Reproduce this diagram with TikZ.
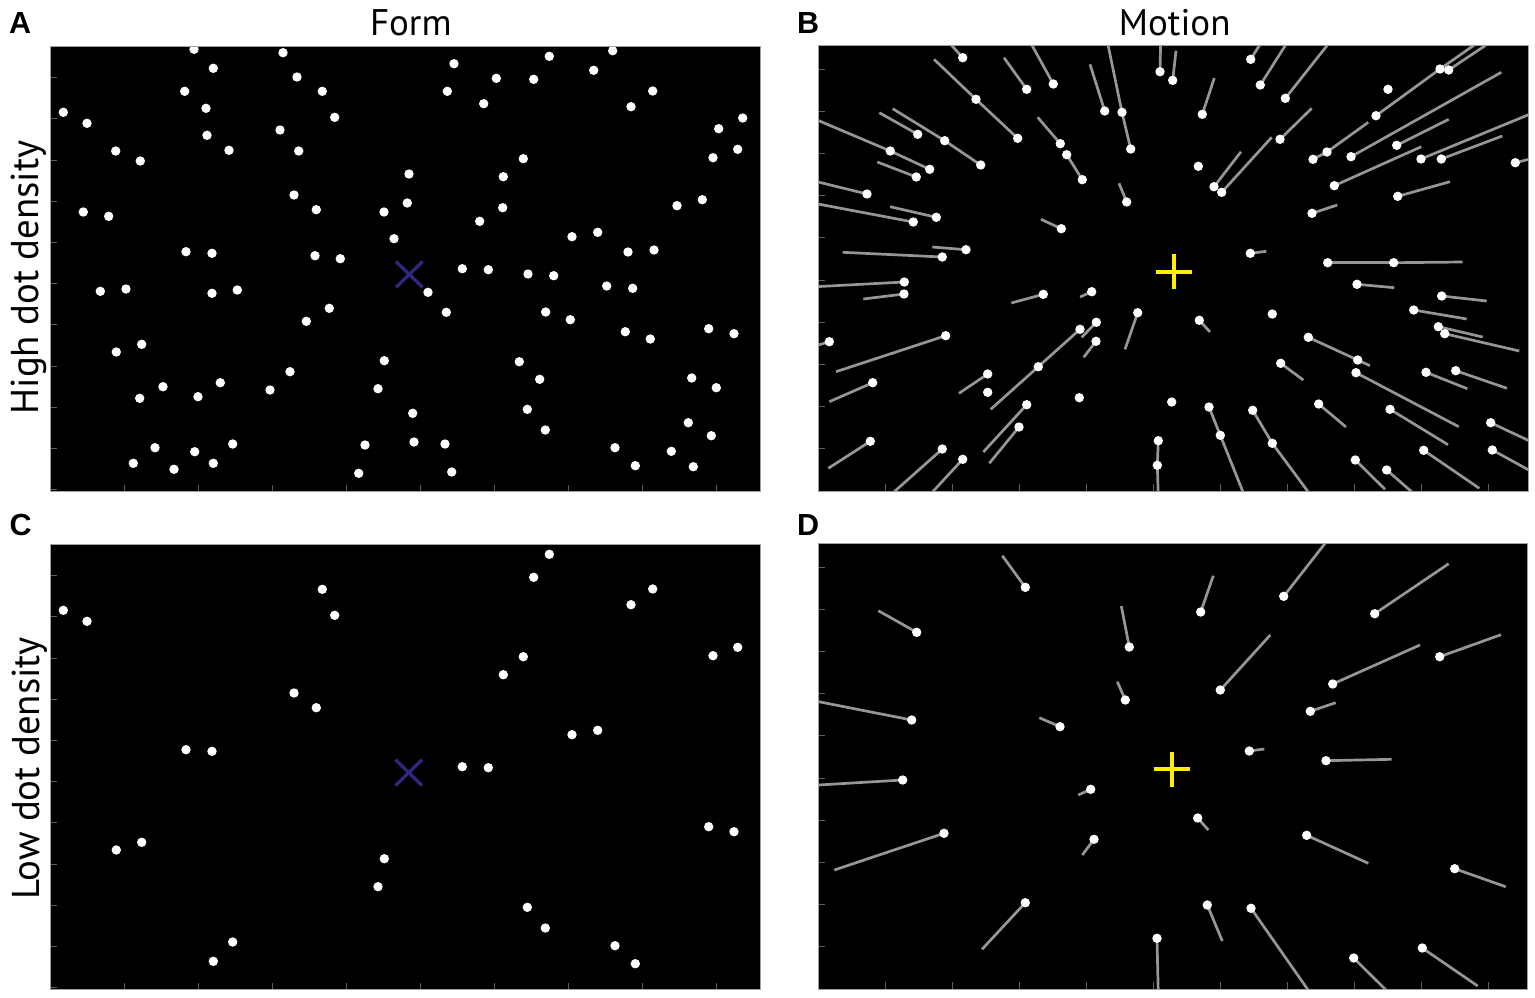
\documentclass[tikz,border=0pt]{standalone}
\usepackage{fontspec}
\setmainfont{PT Sans}
\newfontfamily\letterfont{Liberation Sans}
\definecolor{trailgray}{RGB}{150,150,150}
\definecolor{framegray}{RGB}{160,160,160}
\definecolor{tickgray}{RGB}{95,95,95}
\definecolor{xblue}{RGB}{48,40,128}
\definecolor{fixyellow}{RGB}{255,240,0}
\begin{document}
\begin{tikzpicture}[x=1pt,y=-1pt,
  panelframe/.style={draw=framegray, line width=1pt},
  whitedot/.style={fill=white},
  trail/.style={draw=trailgray, line width=2.7pt},
  tickmark/.style={draw=tickgray, line width=0.8pt},
  formx/.style={draw=xblue, line width=3.3pt},
  motioncross/.style={draw=fixyellow, line width=4pt},
  panelletter/.style={font=\letterfont\fontsize{30.5}{33}\selectfont\bfseries, inner sep=0pt, anchor=base west},
  heading/.style={font=\fontsize{37}{39}\selectfont, inner sep=0pt, anchor=base},
  rowlabel/.style={font=\fontsize{38.8}{40}\selectfont, inner sep=0pt, anchor=base, rotate=90}]
\useasboundingbox (0,0) rectangle (1535,997);
\fill[white] (0,0) rectangle (1535,997);

% ---------------- labels ----------------
\node[panelletter] (la) at (9,33.3) {A};
\node[panelletter] (lb) at (797,33.3) {B};
\node[panelletter] (lc) at (9.5,535.3) {C};
\node[panelletter] (ld) at (797,535.3) {D};
\node[heading] (hform) at (410.8,35) {Form};
\node[heading] (hmotion) at (1174.7,35.5) {Motion};
\node[rowlabel] (rhigh) at (38,277.5) {High dot density};
\node[rowlabel] (rlow) at (39,768) {Low dot density};

% ---------------- panel A ----------------
\fill[black] (50,46.5) rectangle (760,491.5);
\begin{scope}
\clip (50,46.5) rectangle (760,491.5);
\foreach \x/\y in {194/49.3,283/52.7,213.3/68.3,184.7/91.3,63.3/112.3,206/108.3,87/123.3,207/135.3,280/130,115.7/151,229/150.3,140.3/161,83.3/212,108.7/216.3,186/251.7,212/253.3,100.3/291.3,126/289,212/293.3,237.3/290,116.3/352,141.7/344.3,290/371.7,163/386.7,220.3/382.7,139.7/398.3,198/396.7,270/390,155/447.7,232.7/444,194.7/451.7,133.3/463.3,213.3/463.3,174/469.3,
297/77,322.3/91.3,454/63.7,496.3/78.3,447.3/91.3,483.7/103.7,334.7/117.3,298.7/151,523.3/158.7,409/174,503.3/176.7,294/195,316.3/209.7,407.3/203,384/212,502.7/207.7,479.7/221.3,394/238.7,315/255.7,340.3/258.7,462.3/268.7,488.3/269.7,528/274,428/292.3,446.3/312.3,329.3/308.3,306.3/321.3,384.3/360.7,519.3/361.7,378/388.7,527.3/409.3,412.7/413.3,365/445,414/442,445/444,358.7/473.3,451.7/472,
549.3/56.3,612.7/50.7,533.7/79.3,593.7/70.3,652.7/91,631/106.7,742.7/118,718.7/128.7,737.7/149.3,713/157.7,677/205.7,702.3/199.7,572/236.7,597.7/232.3,628/252,654/250,553.7/275.7,606.7/286,632.7/288.3,545.7/312,570.3/319.7,625.3/331.7,650.3/339,708.7/328.7,734/333.7,539.7/379.3,691.7/378,716.3/387.7,545.3/430,688.3/422.7,711.3/435.7,615/447.7,671.3/451.3,635.3/465.7,693.3/466.7}
  \fill[whitedot] (\x,\y) circle (4.7pt);
\draw[formx] (396,261.5) -- (422.6,287.3) (396,287.3) -- (422.6,261.5);
\end{scope}
\foreach \t in {124,198,...,716} \draw[tickmark] (\t,491.5) -- ++(0,-7);
\foreach \k in {0,...,10} \draw[tickmark] (50,{489.5-41.2*\k}) -- ++(7,0);
\draw[panelframe] (50,46.5) rectangle (760,491.5);

% ---------------- panel C ----------------
\fill[black] (50,544.5) rectangle (760,989.5);
\begin{scope}
\clip (50,544.5) rectangle (760,989.5);
\foreach \x/\y in {63.3/112.3,87/123.3,322.3/91.3,334.7/117.3,533.7/79.3,549.3/56.3,631/106.7,652.7/91,713/157.7,737.7/149.3,294/195,316.3/209.7,503.3/176.7,523.3/158.7,186/251.7,212/253.3,572/236.7,597.7/232.3,462.3/268.7,488.3/269.7,116.3/352,141.7/344.3,708.7/328.7,734/333.7,384.3/360.7,378/388.7,527.3/409.3,545.3/430,232.7/444,213.3/463.3,615/447.7,635.3/465.7}
  \fill[whitedot] (\x,{\y+498}) circle (4.7pt);
\draw[formx] (395.5,759.7) -- (422,785.5) (395.5,785.5) -- (422,759.7);
\end{scope}
\foreach \t in {124,198,...,716} \draw[tickmark] (\t,989.5) -- ++(0,-7);
\foreach \k in {0,...,10} \draw[tickmark] (50,{987.5-41.2*\k}) -- ++(7,0);
\draw[panelframe] (50,544.5) rectangle (760,989.5);

% ---------------- panel B ----------------
\fill[black] (818.3,45.7) rectangle (1528.3,491);
\begin{scope}
\clip (818.3,45.7) rectangle (1528.3,491);
\foreach \x/\y/\ex/\ey in {962.7/57.7/945/38,1026.7/89.3/1004/57.7,1053.3/84/1028/38,976/99.3/934/59.3,1017.7/138.3/976/99.3,1060.3/143.7/1037.7/117.3,917.7/134.3/879.3/112.7,944.7/140.7/892.7/108.7,980.7/165/944.7/140.7,890.3/151/810/117,929.7/169.3/890.3/151,916.3/177/877.3/162,867/194/810/180,913.3/222/810/202.5,936.3/217.3/890/206.7,966/249.7/932.3/247,942.3/257/842.7/252.3,904.3/282/810/287,904/294/863.3/299,1043.3/294.3/1011.3/303,1061.3/228.7/1041/219.3,829.3/341.7/810/347.5,945.7/335.7/836/371.7,1038.3/366.7/990.7/409.3,1080/329.3/1038.3/366.7,872.7/382.7/829.3/401.7,987.7/374/959/393.3,1026.7/404.7/983.3/452,1019/427/989.3/463.3,870.3/441.3/828.3/468.3,942.3/449/886/499,962.7/459.3/926/499,1104.7/111/1090/64.3,1122/112.3/1106.6/38,1130.7/149/1122/112.3,1160/71.7/1160.7/38,1172.7/80.3/1176/50.7,1202.3/114.3/1214.3/78,1250.7/59.3/1264/38,1260.3/85/1290/38,1285.3/98.3/1333/38,1082.3/179.7/1066.7/154.7,1126.7/202/1119/183.3,1214/186.7/1241/151.7,1221.7/192.3/1271.7/137.3,1280/139.3/1311.7/108.3,1250.3/253.3/1266.3/251.3,1091.7/291.7/1080/297,1137.7/312.7/1125/349.3,1199.3/320.3/1210/332,1096.3/322.3/1081.7/337.3,1096/341.3/1083.7/357.3,1280.7/363.3/1303.3/380,1209/407/1220.3/435.3,1220.3/435.3/1245/497,1252.7/410.3/1272.3/443.3,1272.3/443.3/1312/497,1158.3/440.7/1157.3/465.3,1157.3/465.3/1158.3/497,1440/69/1484.3/38,1448.7/70/1496.5/38,1376/115.7/1440/69,1327/152/1368.3/122.3,1313/159.3/1327/152,1351/156.7/1501.3/72.3,1396.7/145.3/1448.7/119.3,1421/159/1540/110,1441.3/159/1502.3/136,1515.3/162.7/1536/157.5,1334.3/185.7/1421.3/146.7,1397.7/196.3/1450/181.7,1312/213.3/1337.3/205,1327.7/262.7/1393.7/262.7,1393.7/262.7/1462.7/262,1357/284.3/1394.3/287.7,1441.7/296/1486.7/301,1413.7/310/1466.7/319,1438.3/326.7/1482.7/337,1444.7/333.7/1519.3/351,1308.3/337.3/1370/365.7,1356/372.7/1458.7/426.7,1426/372.3/1467.3/388.7,1455.7/370.7/1507/388.3,1318.7/404/1346/427,1390/409.3/1448/444.7,1490.7/422.7/1536/444,1492.3/450/1536/474,1423.7/450.3/1479.3/488.3,1355.3/460/1385/489.3,1386.7/470/1420/499}
  \draw[trail] (\x,\y) -- (\ex,\ey);
\foreach \x/\y/\ex/\ey in {962.7/57.7/945/38,1026.7/89.3/1004/57.7,1053.3/84/1028/38,976/99.3/934/59.3,1017.7/138.3/976/99.3,1060.3/143.7/1037.7/117.3,917.7/134.3/879.3/112.7,944.7/140.7/892.7/108.7,980.7/165/944.7/140.7,890.3/151/810/117,929.7/169.3/890.3/151,916.3/177/877.3/162,867/194/810/180,913.3/222/810/202.5,936.3/217.3/890/206.7,966/249.7/932.3/247,942.3/257/842.7/252.3,904.3/282/810/287,904/294/863.3/299,1043.3/294.3/1011.3/303,1061.3/228.7/1041/219.3,829.3/341.7/810/347.5,945.7/335.7/836/371.7,1038.3/366.7/990.7/409.3,1080/329.3/1038.3/366.7,872.7/382.7/829.3/401.7,987.7/374/959/393.3,1026.7/404.7/983.3/452,1019/427/989.3/463.3,870.3/441.3/828.3/468.3,942.3/449/886/499,962.7/459.3/926/499,1104.7/111/1090/64.3,1122/112.3/1106.6/38,1130.7/149/1122/112.3,1160/71.7/1160.7/38,1172.7/80.3/1176/50.7,1202.3/114.3/1214.3/78,1250.7/59.3/1264/38,1260.3/85/1290/38,1285.3/98.3/1333/38,1082.3/179.7/1066.7/154.7,1126.7/202/1119/183.3,1214/186.7/1241/151.7,1221.7/192.3/1271.7/137.3,1280/139.3/1311.7/108.3,1250.3/253.3/1266.3/251.3,1091.7/291.7/1080/297,1137.7/312.7/1125/349.3,1199.3/320.3/1210/332,1096.3/322.3/1081.7/337.3,1096/341.3/1083.7/357.3,1280.7/363.3/1303.3/380,1209/407/1220.3/435.3,1220.3/435.3/1245/497,1252.7/410.3/1272.3/443.3,1272.3/443.3/1312/497,1158.3/440.7/1157.3/465.3,1157.3/465.3/1158.3/497,1440/69/1484.3/38,1448.7/70/1496.5/38,1376/115.7/1440/69,1327/152/1368.3/122.3,1313/159.3/1327/152,1351/156.7/1501.3/72.3,1396.7/145.3/1448.7/119.3,1421/159/1540/110,1441.3/159/1502.3/136,1515.3/162.7/1536/157.5,1334.3/185.7/1421.3/146.7,1397.7/196.3/1450/181.7,1312/213.3/1337.3/205,1327.7/262.7/1393.7/262.7,1393.7/262.7/1462.7/262,1357/284.3/1394.3/287.7,1441.7/296/1486.7/301,1413.7/310/1466.7/319,1438.3/326.7/1482.7/337,1444.7/333.7/1519.3/351,1308.3/337.3/1370/365.7,1356/372.7/1458.7/426.7,1426/372.3/1467.3/388.7,1455.7/370.7/1507/388.3,1318.7/404/1346/427,1390/409.3/1448/444.7,1490.7/422.7/1536/444,1492.3/450/1536/474,1423.7/450.3/1479.3/488.3,1355.3/460/1385/489.3,1386.7/470/1420/499}
  \fill[whitedot] (\x,\y) circle (4.7pt);
\foreach \x/\y in {987.7/392.3,1066.7/154.7,1198.3/166.3,1272.3/314,1079.3/397.7,1171.7/402,1388/89.3,1357.7/360}
  \fill[whitedot] (\x,\y) circle (4.7pt);
\draw[motioncross] (1155.7,271.7) -- (1191.7,271.7) (1173.7,254) -- (1173.7,289.4);
\end{scope}
\foreach \k in {1,...,10} \draw[tickmark] ({818.3+67*\k},491) -- ++(0,-7);
\foreach \k in {1,...,10} \draw[tickmark] (818.3,{491-42.2*\k}) -- ++(7,0);
\draw[panelframe] (818.3,45.7) rectangle (1528.3,491);

% ---------------- panel D ----------------
\fill[black] (818.3,543.7) rectangle (1527,989);
\begin{scope}
\clip (818.3,543.7) rectangle (1527,989);
\foreach \x/\y/\ex/\ey in {1025.3/587.3/1002.3/555.7,916.7/632.3/878.3/610.7,1129.3/647/1121.3/606,1125.3/700/1117.3/681.7,911.7/720/810/700,1060/726.7/1039.3/717.7,902.7/780/810/785.5,1090.7/789.3/1078.3/795,944/833.3/834.3/870,1094/839.3/1082.3/855,1025.3/902.7/982/949.3,1157/938.3/1158.3/995,1200.7/612/1213.3/575.7,1283.7/596.3/1330/537,1374.7/613.7/1448.7/563.7,1220.3/690/1270.3/635,1332.7/684/1420/645,1439.7/656.7/1501/634.7,1310.3/711.3/1335.7/702.7,1249.3/751/1264.3/749,1326/760.7/1391.7/759.3,1197.7/818/1208.3/830,1306.7/835.3/1368.3/863.3,1454.7/868.7/1505.7/886.7,1207.3/905/1222.3/941,1251/908.3/1313/997,1353.7/958/1387/991,1422.3/948/1477.7/986}
  {\draw[trail] (\x,\y) -- (\ex,\ey);
   \fill[whitedot] (\x,\y) circle (4.7pt);}
\draw[motioncross] (1153.7,769.3) -- (1189.7,769.3) (1171.7,751.6) -- (1171.7,787);
\end{scope}
\foreach \k in {1,...,10} \draw[tickmark] ({818.3+67*\k},989) -- ++(0,-7);
\foreach \k in {1,...,10} \draw[tickmark] (818.3,{989-42.2*\k}) -- ++(7,0);
\draw[panelframe] (818.3,543.7) rectangle (1527,989);
\end{tikzpicture}
\end{document}
